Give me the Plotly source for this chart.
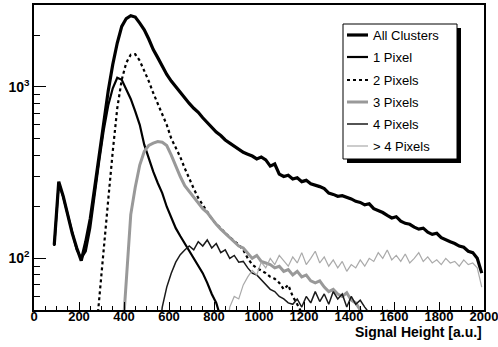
import plotly.graph_objects as go

BIN = 20

# series: (name, first bin left edge, values per 20-unit bin)
all_start = 80
all_vals = [120, 280, 230, 180, 140, 115, 97, 125, 170, 260, 400, 620, 950, 1350, 1800, 2250,
            2500, 2600, 2550, 2350, 2150, 1900, 1650, 1480, 1320, 1180, 1080, 1000, 920, 860,
            800, 750, 710, 660, 620, 580, 545, 520, 490, 470, 450, 430, 415, 405, 395, 380,
            390, 375, 345, 355, 310, 300, 305, 290, 295, 280, 285, 272, 268, 262, 255, 240,
            236, 230, 232, 228, 222, 215, 212, 205, 208, 195, 190, 185, 178, 172, 175, 165,
            160, 158, 152, 148, 150, 142, 138, 140, 132, 128, 125, 122, 118, 116, 110, 108,
            100, 82]

p1_start = 80
p1_vals = [118, 275, 228, 178, 138, 112, 100, 110, 150, 240, 370, 560, 780, 980, 1130, 1100,
           960, 850, 720, 600, 460, 380, 320, 275, 240, 200, 175, 150, 135, 122, 112, 100,
           90, 82, 72, 62, 55, 45, 30]

p2_start = 260
p2_vals = [30, 60, 110, 220, 420, 750, 1100, 1380, 1540, 1550, 1420, 1250, 1080, 920, 800,
           690, 600, 500, 440, 390, 335, 290, 255, 225, 205, 185, 170, 158, 150, 140, 132,
           126, 120, 112, 100, 92, 88, 85, 82, 78, 76, 72, 66, 70, 60, 54, 48, 30]

p3_start = 380
p3_vals = [30, 75, 180, 260, 350, 420, 455, 470, 480, 475, 455, 400, 345, 300, 265, 245, 225,
           210, 195, 185, 170, 158, 148, 140, 132, 125, 118, 115, 108, 100, 104, 96, 94, 92,
           88, 90, 84, 86, 80, 84, 78, 80, 74, 72, 74, 68, 64, 66, 62, 60, 63, 57, 55, 50, 30]

p4_start = 540
p4_vals = [30, 52, 68, 82, 95, 105, 112, 118, 112, 125, 118, 128, 115, 122, 108, 112, 100,
           104, 95, 96, 88, 82, 80, 75, 70, 66, 64, 60, 58, 55, 54, 58, 52, 60, 55, 64, 56,
           62, 54, 64, 58, 62, 52, 60, 54, 57, 52, 48, 42, 45, 44, 50, 45, 30]

p5_start = 840
p5_vals = [30, 52, 60, 58, 70, 78, 85, 80, 95, 88, 100, 92, 104, 96, 90, 102, 94, 108, 92, 100,
           110, 94, 102, 90, 98, 88, 96, 84, 92, 88, 98, 90, 100, 96, 108, 100, 112, 98, 104,
           96, 106, 94, 100, 108, 96, 102, 94, 98, 92, 100, 94, 96, 90, 98, 92, 94, 88, 68]

x_ticks = [0, 200, 400, 600, 800, 1000, 1200, 1400, 1600, 1800, 2000]
y_ticks = [100, 1000]
y_tick_text = ["<b>10<sup>2</sup></b>", "<b>10<sup>3</sup></b>"]
y_minor = [60, 70, 80, 90, 200, 300, 400, 500, 600, 700, 800, 900, 2000, 3000]

series = [
    ("All Clusters", all_start, all_vals, dict(color="#000000", width=3.2)),
    ("1 Pixel", p1_start, p1_vals, dict(color="#000000", width=2.2)),
    ("2 Pixels", p2_start, p2_vals, dict(color="#000000", width=2.2, dash="dot")),
    ("3 Pixels", p3_start, p3_vals, dict(color="#999999", width=3)),
    ("4 Pixels", p4_start, p4_vals, dict(color="#1a1a1a", width=1.5)),
    ("> 4 Pixels", p5_start, p5_vals, dict(color="#aaaaaa", width=1.2)),
]

fig = go.Figure()
for i, (name, start, vals, line) in enumerate(series):
    centers = [start + BIN * k + BIN / 2 for k in range(len(vals))]
    fig.add_trace(go.Scatter(
        x=centers, y=vals, mode="lines", name=name,
        line=dict(shape="linear", **line), cliponaxis=True, showlegend=False,
    ))

font = "Liberation Sans, Arial, Helvetica, sans-serif"

fig.update_layout(
    width=498, height=347,
    margin=dict(l=34, r=14, t=5, b=37),
    paper_bgcolor="white", plot_bgcolor="white",
    font=dict(family=font, color="black"),
    showlegend=False,
    xaxis=dict(
        range=[0, 2000], tickvals=x_ticks, ticktext=[f"<b>{v}</b>" for v in x_ticks],
        ticks="inside", ticklen=8, tickwidth=1, tickcolor="black",
        tickfont=dict(family=font, size=13, color="black"),
        ticklabelstandoff=-6, ticklabeloverflow="allow",
        showline=True, linecolor="black", linewidth=1.5, mirror=True,
        showgrid=False, zeroline=False, automargin=False,
        minor=dict(dtick=50, tick0=0, ticks="inside", ticklen=4, tickcolor="black", showgrid=False),
    ),
    yaxis=dict(
        type="log", range=[1.699, 3.477], tickvals=y_ticks, ticktext=y_tick_text,
        ticks="inside", ticklen=12, tickwidth=1, tickcolor="black",
        tickfont=dict(family=font, size=14, color="black"),
        showline=True, linecolor="black", linewidth=1.5, mirror=True,
        showgrid=False, zeroline=False, automargin=False,
        minor=dict(tickvals=y_minor, ticks="inside", ticklen=6, tickcolor="black", showgrid=False),
    ),
)

# ---- legend box drawn by hand (pixel layout converted to paper coords) ----
def px(x):
    return (x - 34) / 450


def py(y):
    return (310 - y) / 305


# drop shadow, then white box with border
fig.add_shape(type="rect", xref="paper", yref="paper",
              x0=px(347), x1=px(461), y0=py(163), y1=py(28),
              fillcolor="black", line=dict(width=0), layer="above")
fig.add_shape(type="rect", xref="paper", yref="paper",
              x0=px(343), x1=px(457), y0=py(159), y1=py(24),
              fillcolor="white", line=dict(color="black", width=1), layer="above")

row_y = [35, 57, 80, 102, 124, 146]
for (name, start, vals, line), ry in zip(series, row_y):
    fig.add_shape(type="line", xref="paper", yref="paper",
                  x0=px(347), x1=px(368), y0=py(ry), y1=py(ry),
                  line=dict(color=line["color"], width=line["width"],
                            dash=line.get("dash", "solid")), layer="above")
    fig.add_annotation(text=name, xref="paper", yref="paper",
                       x=px(371), y=py(ry), xanchor="left", yanchor="middle",
                       showarrow=False, font=dict(family=font, size=13, color="black"))

fig.add_annotation(text="<b>Signal Height [a.u.]</b>", xref="paper", yref="paper",
                   x=1.0, y=(310 - 332) / 305, xanchor="right", yanchor="middle",
                   showarrow=False, font=dict(family=font, size=14, color="black"))

fig.write_html("out.html")
